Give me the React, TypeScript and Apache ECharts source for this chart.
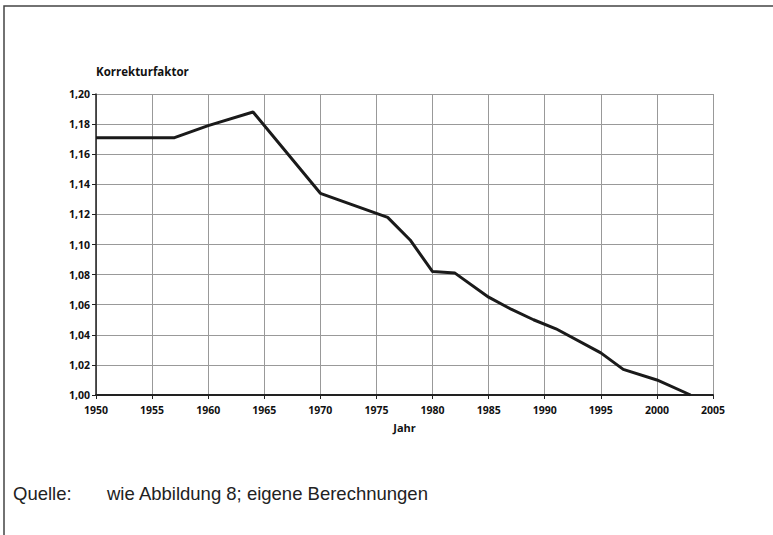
import React, { useEffect, useRef } from "react";
import * as echarts from "echarts";

const years = [1950, 1957, 1960, 1964, 1970, 1976, 1978, 1980, 1982, 1985, 1987, 1989, 1991, 1995, 1997, 2000, 2003];
const factors = [1.171, 1.171, 1.179, 1.188, 1.134, 1.118, 1.103, 1.082, 1.081, 1.065, 1.057, 1.05, 1.044, 1.028, 1.017, 1.01, 1.0];

const yAxisTitle = "Korrekturfaktor";
const xAxisTitle = "Jahr";
const sourceLabel = "Quelle:";
const sourceText = "wie Abbildung 8; eigene Berechnungen";

export default function App() {
  const ref = useRef<HTMLDivElement>(null);
  useEffect(() => {
    if (!ref.current) return;
    const chart = echarts.init(ref.current, null, { renderer: "svg" });
    const axisFont = { fontFamily: "Open Sans", fontWeight: "bold" as const, fontSize: 10.5, color: "#111" };
    chart.setOption({
      animation: false,
      backgroundColor: "#fff",
      grid: { left: 96, right: 60, top: 94, bottom: 140, containLabel: false },
      xAxis: {
        type: "value",
        min: 1950,
        max: 2005,
        interval: 5,
        axisLine: { show: true, lineStyle: { color: "#222", width: 2 } },
        axisTick: { show: true, length: 4, lineStyle: { color: "#222" } },
        axisLabel: { ...axisFont, margin: 9, formatter: (v: number) => String(v) },
        splitLine: { show: true, lineStyle: { color: "#999", width: 1 } },
        name: xAxisTitle,
        nameLocation: "middle",
        nameGap: 27,
        nameTextStyle: { ...axisFont, fontSize: 11 },
      },
      yAxis: {
        type: "value",
        min: 1.0,
        max: 1.2,
        interval: 0.02,
        axisLine: { show: true, lineStyle: { color: "#222", width: 1.5 } },
        axisTick: { show: true, length: 4, lineStyle: { color: "#222" } },
        axisLabel: { ...axisFont, margin: 6, formatter: (v: number) => v.toFixed(2).replace(".", ",") },
        splitLine: { show: true, lineStyle: { color: "#999", width: 1 } },
      },
      series: [
        {
          type: "line",
          data: years.map((y, i) => [y, factors[i]]),
          symbol: "none",
          lineStyle: { color: "#1a1a1a", width: 3 },
          silent: true,
        },
      ],
      graphic: [
        {
          type: "rect",
          shape: { x: 4, y: 6, width: 1000, height: 700 },
          style: { fill: "none", stroke: "#444", lineWidth: 1.5 },
          z: -1,
        },
        {
          type: "text",
          x: 96,
          y: 71,
          style: { text: yAxisTitle, fontFamily: "Open Sans", fontWeight: "bold", fontSize: 11.5, fill: "#111", textVerticalAlign: "middle" },
        },
        {
          type: "text",
          x: 13,
          y: 493,
          style: { text: sourceLabel, fontFamily: "Liberation Sans", fontSize: 18.5, fill: "#222", textVerticalAlign: "middle" },
        },
        {
          type: "text",
          x: 107,
          y: 493,
          style: { text: sourceText, fontFamily: "Liberation Sans", fontSize: 18.5, fill: "#222", textVerticalAlign: "middle" },
        },
      ],
    });
    return () => chart.dispose();
  }, []);
  return <div ref={ref} style={{ position: "absolute", left: 0, top: 0, width: 773, height: 535 }} />;
}
